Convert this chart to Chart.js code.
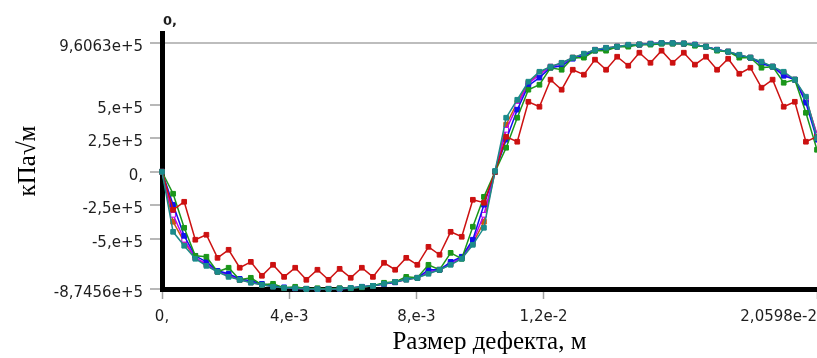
<!DOCTYPE html>
<html>
<head>
<meta charset="utf-8">
<script src="https://cdn.jsdelivr.net/npm/chart.js@4"></script>
<style>
  html, body { margin: 0; padding: 0; background: #fff; overflow: hidden; }
  canvas { display: block; }
</style>
</head>
<body>
<canvas id="sifChart" width="817" height="358"></canvas>
<script>
// Crack size positions, m
const xs = [0, 0.000349, 0.000698, 0.001047, 0.001396, 0.001746, 0.002095, 0.002444, 0.002793, 0.003142,
  0.003491, 0.003840, 0.004189, 0.004539, 0.004888, 0.005237, 0.005586, 0.005935, 0.006284, 0.006633,
  0.006982, 0.007332, 0.007681, 0.008030, 0.008379, 0.008728, 0.009077, 0.009426, 0.009775, 0.010124,
  0.010474, 0.010823, 0.011172, 0.011521, 0.011870, 0.012219, 0.012568, 0.012917, 0.013267, 0.013616,
  0.013965, 0.014314, 0.014663, 0.015012, 0.015361, 0.015710, 0.016059, 0.016409, 0.016758, 0.017107,
  0.017456, 0.017805, 0.018154, 0.018503, 0.018852, 0.019202, 0.019551, 0.019900, 0.020249, 0.020598];

// SIF values, kPa*sqrt(m)
const teal = [0, -448000, -552000, -649000, -702000, -746000, -784000, -806000, -828000, -843000,
  -858000, -866000, -869000, -873000, -874560, -874000, -872000, -866000, -858000, -851000,
  -836000, -821000, -806000, -791000, -761000, -731000, -694000, -649000, -545000, -418000,
  6000, 403000, 537000, 672000, 746000, 784000, 813000, 851000, 881000, 910000,
  925000, 933000, 948000, 950000, 955000, 960630, 960000, 958000, 948000, 933000,
  910000, 896000, 873000, 851000, 821000, 784000, 746000, 687000, 560000, 250000];

const red = [0, -284000, -224000, -507000, -470000, -642000, -582000, -716000, -672000, -776000,
  -694000, -784000, -716000, -806000, -731000, -806000, -724000, -791000, -716000, -784000,
  -679000, -731000, -642000, -694000, -560000, -619000, -448000, -485000, -209000, -231000,
  0, 261000, 224000, 522000, 485000, 687000, 612000, 761000, 724000, 836000,
  761000, 858000, 791000, 888000, 813000, 903000, 813000, 888000, 799000, 858000,
  761000, 843000, 731000, 776000, 627000, 687000, 485000, 522000, 224000, 261000];

const green = [0, -164000, -418000, -627000, -634000, -746000, -716000, -806000, -791000, -843000,
  -836000, -866000, -858000, -873000, -869000, -873000, -869000, -869000, -862000, -851000,
  -828000, -821000, -784000, -791000, -694000, -731000, -605000, -649000, -410000, -187000,
  0, 179000, 403000, 612000, 649000, 776000, 761000, 851000, 851000, 903000,
  903000, 933000, 933000, 948000, 948000, 955000, 955000, 955000, 940000, 933000,
  903000, 896000, 851000, 851000, 776000, 784000, 664000, 687000, 440000, 164000];

const blue = [0, -246000, -478000, -627000, -672000, -739000, -761000, -799000, -813000, -836000,
  -851000, -862000, -869000, -873000, -873000, -873000, -872000, -869000, -858000, -851000,
  -836000, -825000, -799000, -791000, -731000, -731000, -672000, -634000, -507000, -246000,
  0, 239000, 463000, 642000, 702000, 776000, 791000, 843000, 866000, 903000,
  918000, 933000, 940000, 948000, 955000, 958000, 957000, 955000, 948000, 933000,
  910000, 896000, 866000, 851000, 806000, 784000, 716000, 687000, 515000, 239000];

const magenta = [0, -321000, -507000, -642000, -687000, -746000, -769000, -806000, -821000, -843000,
  -854000, -866000, -869000, -873000, -874000, -873000, -872000, -868000, -860000, -851000,
  -838000, -824000, -802000, -791000, -746000, -731000, -683000, -642000, -522000, -321000,
  0, 313000, 493000, 657000, 724000, 784000, 806000, 851000, 873000, 910000,
  922000, 933000, 944000, 948000, 955000, 959000, 959000, 956000, 948000, 933000,
  910000, 896000, 869000, 851000, 813000, 784000, 731000, 687000, 537000, 276000];

const orange = [0, -373000, -522000, -642000, -694000, -746000, -776000, -806000, -825000, -843000,
  -854000, -866000, -869000, -873000, -874000, -873000, -872000, -867000, -859000, -851000,
  -837000, -822000, -804000, -791000, -754000, -731000, -690000, -646000, -535000, -373000,
  0, 351000, 515000, 664000, 739000, 784000, 810000, 851000, 877000, 910000,
  924000, 933000, 946000, 949000, 955000, 959000, 959000, 957000, 948000, 933000,
  910000, 896000, 871000, 851000, 816000, 784000, 738000, 687000, 548000, 276000];

// Axis ticks
const yTicks = [-874560, -500000, -250000, 0, 250000, 500000, 960630];
const yTickLabels = ['-8,7456e+5', '-5,e+5', '-2,5e+5', '0,', '2,5e+5', '5,e+5', '9,6063e+5'];
const xTicks = [0, 0.004, 0.008, 0.012, 0.020598];
const xTickLabels = ['0,', '4,e-3', '8,e-3', '1,2e-2', '2,0598e-2'];
const yAxisMax = 1035000;

const toPoints = arr => xs.map((x, i) => ({ x: x, y: arr[i] }));

function series(data, color, fill) {
  return {
    data: toPoints(data),
    borderColor: color,
    backgroundColor: fill || color,
    pointBackgroundColor: fill || color,
    pointBorderColor: color,
    borderWidth: 1.5,
    pointStyle: 'rect',
    pointRadius: 3.3,
    pointBorderWidth: 1,
    clip: false
  };
}

// x tick labels (last one right-aligned like the original) and the bold "0," above the axis
const extraText = {
  id: 'extraText',
  afterDraw(chart) {
    const ctx = chart.ctx;
    const xs = chart.scales.x;
    ctx.save();
    ctx.fillStyle = '#1e1e1e';
    ctx.font = '15px "DejaVu Sans"';
    ctx.textBaseline = 'alphabetic';
    xs.ticks.forEach((t, i) => {
      const px = xs.getPixelForValue(t.value);
      ctx.textAlign = i === xs.ticks.length - 1 ? 'right' : 'center';
      ctx.fillText(xTickLabels[i], px, 321);
    });
    ctx.font = 'bold 13px "DejaVu Sans"';
    ctx.textAlign = 'left';
    ctx.fillText('0,', chart.chartArea.left + 1, 25);
    ctx.restore();
  }
};

const ctx = document.getElementById('sifChart').getContext('2d');

new Chart(ctx, {
  type: 'line',
  data: {
    datasets: [
      series(teal, '#1b8b8b'),
      series(red, '#cc1111'),
      series(green, '#1a961a'),
      series(blue, '#1010ee'),
      series(magenta, '#c000f0', '#ffffff'),
      series(orange, '#c85a10')
    ]
  },
  options: {
    responsive: false,
    animation: false,
    devicePixelRatio: 1,
    layout: { padding: { top: 33, left: 0, right: 0, bottom: 0 }, autoPadding: false },
    plugins: {
      legend: { display: false },
      tooltip: { enabled: false }
    },
    scales: {
      x: {
        type: 'linear',
        min: 0,
        max: 0.020598,
        afterBuildTicks: scale => { scale.ticks = xTicks.map(v => ({ value: v })); },
        afterFit: scale => { scale.height = 69; },
        ticks: { display: false },
        grid: { drawOnChartArea: false, tickLength: 10, tickColor: '#a0a0a0', tickWidth: 1.5 },
        border: { color: '#000', width: 5 },
        title: {
          display: true,
          text: 'Размер дефекта, м',
          color: '#000',
          font: { family: '"Liberation Serif"', size: 25 },
          padding: { top: 0, bottom: 1 }
        }
      },
      y: {
        type: 'linear',
        min: -874560,
        max: yAxisMax,
        afterBuildTicks: scale => { scale.ticks = yTicks.map(v => ({ value: v })); },
        afterFit: scale => { scale.width = 162; },
        ticks: {
          autoSkip: false,
          padding: 7,
          labelOffset: 4,
          color: '#1e1e1e',
          font: { family: '"DejaVu Sans"', size: 15 },
          callback: (value, index) => yTickLabels[index]
        },
        grid: {
          color: c => (c.tick && c.tick.value === 960630) ? '#bdbdbd' : 'rgba(0,0,0,0)',
          lineWidth: 2,
          tickLength: 12,
          tickColor: '#a0a0a0',
          tickWidth: 1.5
        },
        border: { color: '#000', width: 5 },
        title: {
          display: true,
          text: 'кПа√м',
          color: '#000',
          font: { family: '"Liberation Serif"', size: 25 },
          padding: { top: 13, bottom: 0 }
        }
      }
    }
  },
  plugins: [extraText]
});
</script>
</body>
</html>
